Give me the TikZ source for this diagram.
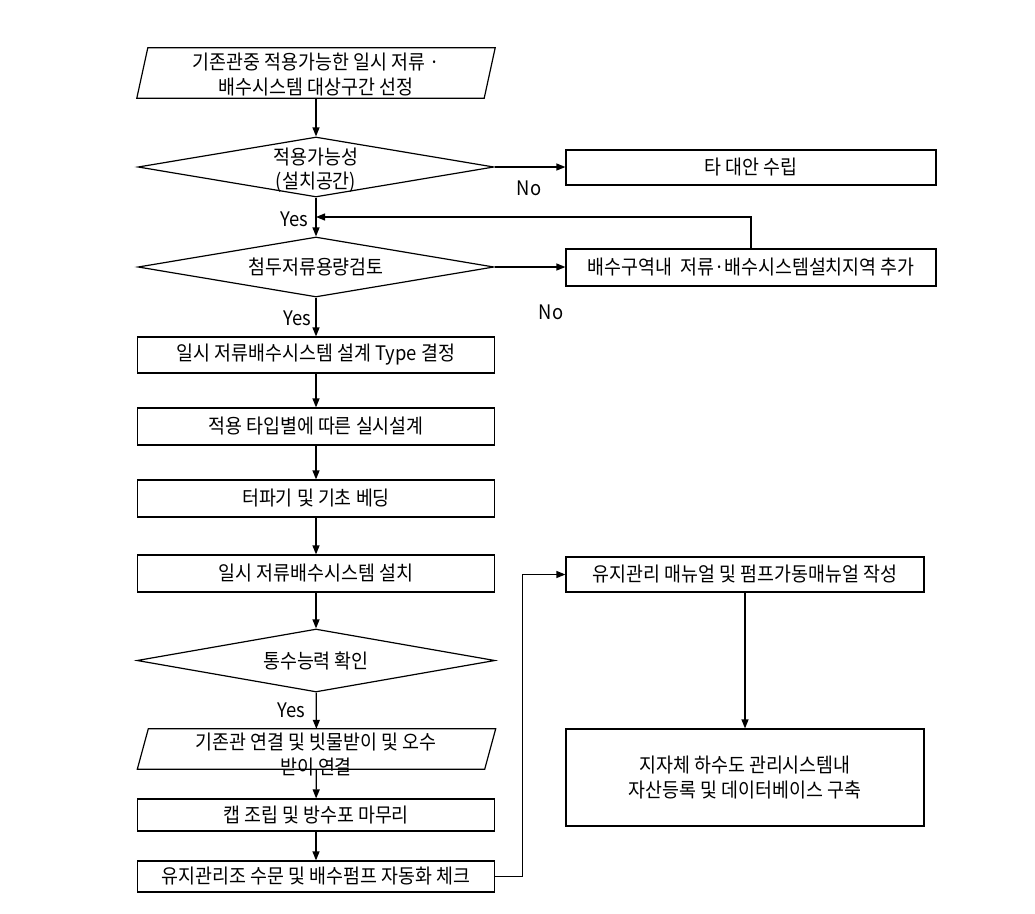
\documentclass[tikz,border=0pt]{standalone}
\usepackage{fontspec}
\setmainfont{Noto Sans CJK KR}[FakeStretch=0.92]
\usetikzlibrary{shapes.geometric,arrows.meta}
\begin{document}
\begin{tikzpicture}[x=1pt,y=-1pt,
  every node/.style={font=\fontsize{20}{24.5}\selectfont},
  base/.style={draw, line width=1.2pt, align=center, inner sep=1pt},
  box/.style={base, rectangle, minimum width=357pt},
  rbox/.style={base, rectangle},
  dia/.style={draw, line width=1.2pt, diamond, inner sep=0pt, minimum width=356pt, minimum height=60pt},
  frame/.style={rectangle, inner sep=0pt, minimum width=347pt},
  txt/.style={align=center, inner sep=0pt},
  lab/.style={inner sep=0pt, font=\fontsize{20}{22}\selectfont},
  arr/.style={line width=1.2pt, -{Triangle[length=9pt,width=7pt]}},
  ln/.style={line width=1.2pt, line join=miter}]
\useasboundingbox (0,0) rectangle (1035,913);

% main column
\node[frame, minimum height=50pt] (p1) at (316,73) {};
\draw[ln] ([xshift=5.5pt]p1.north west) -- ([xshift=5.5pt]p1.north east) -- ([xshift=-5.5pt]p1.south east) -- ([xshift=-5.5pt]p1.south west) -- cycle;
\node[txt] (p1t) at (316,74.5) {기존관중 적용가능한 일시 저류 ·\\배수시스템 대상구간 선정};
\node[dia] (d1) at (316,167) {};
\node[txt] (d1t) at (316,170) {적용가능성\\(설치공간)};
\coordinate (j1) at (316,217);
\node[dia] (d2) at (316,267) {};
\node[txt] (d2t) at (d2) {첨두저류용량검토};
\node[box, minimum height=36pt] (b1) at (316,355) {일시 저류배수시스템 설계 Type 결정};
\node[box, minimum height=37pt] (b2) at (316,426.5) {적용 타입별에 따른 실시설계};
\node[box, minimum height=37pt] (b3) at (316,498.5) {터파기 및 기초 베딩};
\node[box, minimum height=37pt] (b4) at (316,573.5) {일시 저류배수시스템 설치};
\node[dia, minimum width=358pt, minimum height=63pt] (d3) at (316,660.5) {};
\node[txt] (d3t) at (d3) {통수능력 확인};
\node[frame, minimum height=40pt] (p2) at (316.5,749) {};
\draw[ln] ([xshift=5.5pt]p2.north west) -- ([xshift=5.5pt]p2.north east) -- ([xshift=-5.5pt]p2.south east) -- ([xshift=-5.5pt]p2.south west) -- cycle;
\node[txt] (p2t) at (316,754.5) {기존관 연결 및 빗물받이 및 오수\\받이 연결};
\node[box, minimum height=32pt] (b5) at (316,815) {캡 조립 및 방수포 마무리};
\node[box, minimum height=31pt] (b6) at (316,876.5) {유지관리조 수문 및 배수펌프 자동화 체크};

% right column
\node[rbox, minimum width=370pt, minimum height=35pt] (r1) at (751,167.5) {타 대안 수립};
\node[rbox, minimum width=370pt, minimum height=37pt] (r2) at (751,267.5) {배수구역내\ \ 저류·배수시스템설치지역 추가};
\node[rbox, minimum width=358pt, minimum height=35pt] (r3) at (745,574.5) {유지관리 매뉴얼 및 펌프가동매뉴얼 작성};
\node[rbox, minimum width=358pt, minimum height=97pt] (r4) at (745,777.5) {지자체 하수도 관리시스템내\\자산등록 및 데이터베이스 구축};

% labels
\node[lab, anchor=east] (y1) at (308,219) {Yes};
\node[lab, anchor=east] (y2) at (311,318) {Yes};
\node[lab, anchor=east] (y3) at (305,710) {Yes};
\node[lab] (n1) at (529,188) {No};
\node[lab] (n2) at (551,312) {No};

% connectors
\draw[arr] (p1) -- (d1);
\draw[arr] (d1) -- (d2);
\draw[arr] (d2) -- (b1);
\draw[arr] (b1) -- (b2);
\draw[arr] (b2) -- (b3);
\draw[arr] (b3) -- (b4);
\draw[arr] (b4) -- (d3);
\draw[arr] (d3) -- (p2);
\draw[arr] (p2) -- (b5);
\draw[arr] (b5) -- (b6);
\draw[arr] (d1.east) -- (r1.west |- d1.east);
\draw[arr] (d2.east) -- (r2.west |- d2.east);
\draw[arr] (r2.north) |- (j1);
\draw[arr] (b6.east) -- ++(27,0) |- (r3.west);
\draw[arr] (r3) -- (r4);
\end{tikzpicture}
\end{document}
